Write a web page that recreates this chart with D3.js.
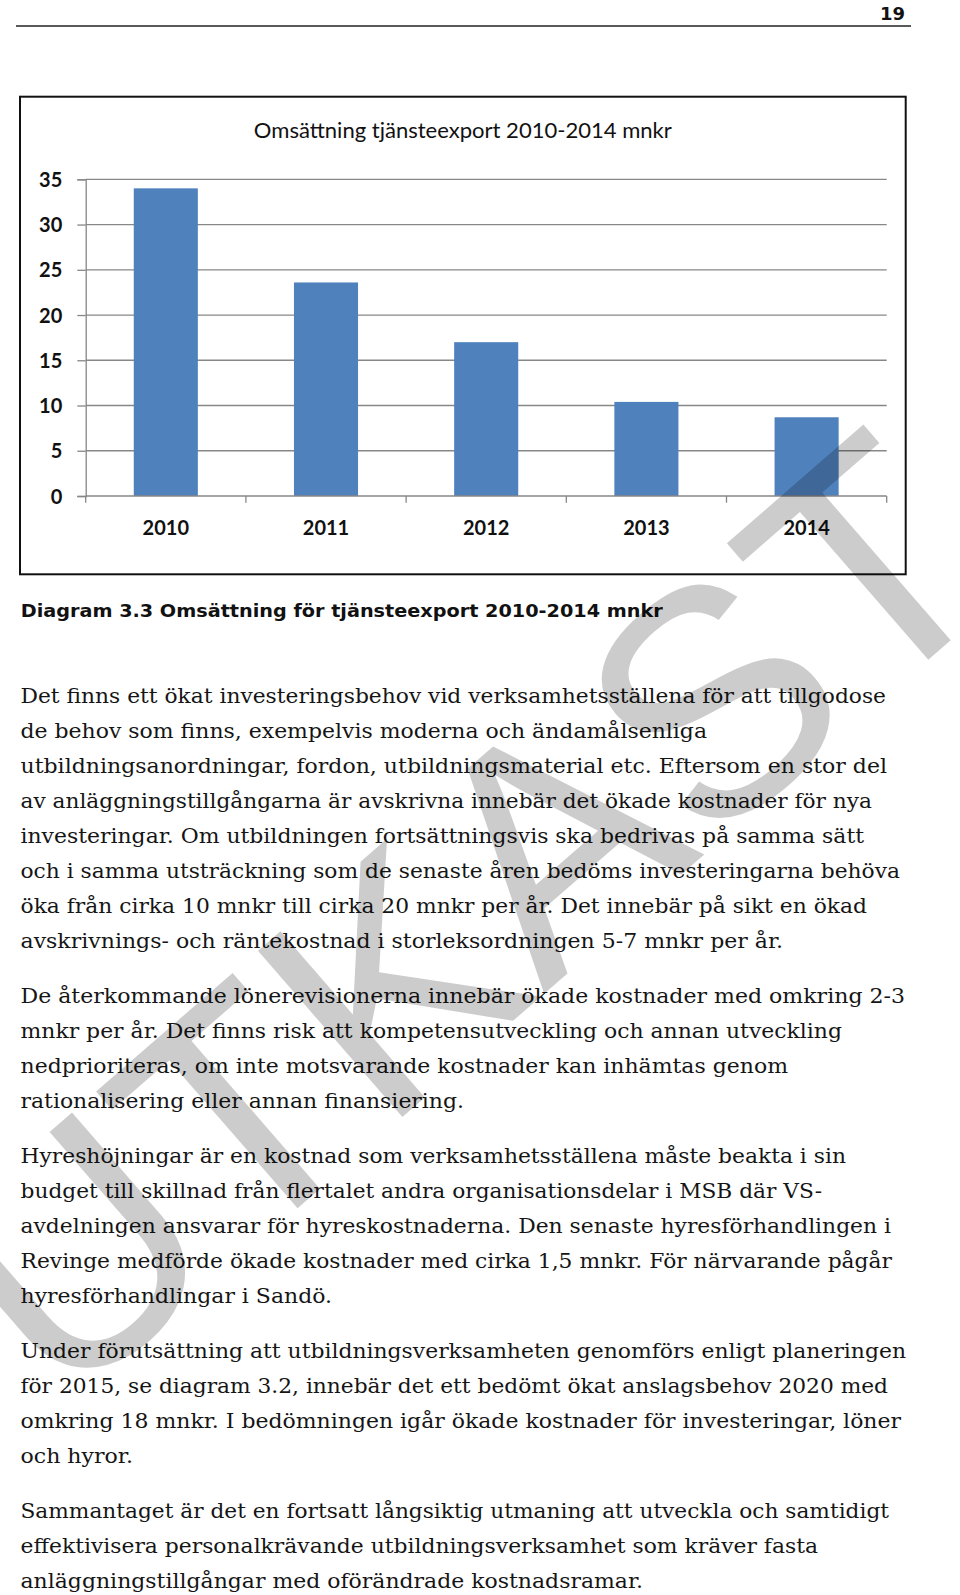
<!DOCTYPE html>
<html>
<head>
<meta charset="utf-8">
<script src="https://cdn.jsdelivr.net/npm/d3@7/dist/d3.min.js"></script>
<style>
  html, body { margin: 0; padding: 0; background: #fff; }
  svg { display: block; }
</style>
</head>
<body>
<script>
// ---------- data ----------
const categories = ["2010", "2011", "2012", "2013", "2014"];
const values = [34.0, 23.6, 17.0, 10.4, 8.7];
const yTicks = [0, 5, 10, 15, 20, 25, 30, 35];
const chartTitle = "Omsättning tjänsteexport 2010-2014 mnkr";
const caption = "Diagram 3.3 Omsättning för tjänsteexport 2010-2014 mnkr";
const pageNumber = "19";
const watermark = "UTKAST";
const paragraphs = [
  ["Det finns ett ökat investeringsbehov vid verksamhetsställena för att tillgodose",
   "de behov som finns, exempelvis moderna och ändamålsenliga",
   "utbildningsanordningar, fordon, utbildningsmaterial etc. Eftersom en stor del",
   "av anläggningstillgångarna är avskrivna innebär det ökade kostnader för nya",
   "investeringar. Om utbildningen fortsättningsvis ska bedrivas på samma sätt",
   "och i samma utsträckning som de senaste åren bedöms investeringarna behöva",
   "öka från cirka 10 mnkr till cirka 20 mnkr per år. Det innebär på sikt en ökad",
   "avskrivnings- och räntekostnad i storleksordningen 5-7 mnkr per år."],
  ["De återkommande lönerevisionerna innebär ökade kostnader med omkring 2-3",
   "mnkr per år. Det finns risk att kompetensutveckling och annan utveckling",
   "nedprioriteras, om inte motsvarande kostnader kan inhämtas genom",
   "rationalisering eller annan finansiering."],
  ["Hyreshöjningar är en kostnad som verksamhetsställena måste beakta i sin",
   "budget till skillnad från flertalet andra organisationsdelar i MSB där VS-",
   "avdelningen ansvarar för hyreskostnaderna. Den senaste hyresförhandlingen i",
   "Revinge medförde ökade kostnader med cirka 1,5 mnkr. För närvarande pågår",
   "hyresförhandlingar i Sandö."],
  ["Under förutsättning att utbildningsverksamheten genomförs enligt planeringen",
   "för 2015, se diagram 3.2, innebär det ett bedömt ökat anslagsbehov 2020 med",
   "omkring 18 mnkr. I bedömningen igår ökade kostnader för investeringar, löner",
   "och hyror."],
  ["Sammantaget är det en fortsatt långsiktig utmaning att utveckla och samtidigt",
   "effektivisera personalkrävande utbildningsverksamhet som kräver fasta",
   "anläggningstillgångar med oförändrade kostnadsramar."]
];

// ---------- layout (positions only) ----------
const W = 960, H = 1595;
const lineEnds = [
  [886, 707, 887, 872, 864, 900, 867, 783],
  [905, 842, 788, 464],
  [846, 822, 891, 892, 332],
  [906, 888, 901, 133],
  [889, 818, 643]
];
const frame = { x0: 20, y0: 96.7, x1: 905.7, y1: 574.3 };
const plot = { left: 85.7, right: 886.7, top: 179.3, bottom: 496 };

const svg = d3.select("body").append("svg")
  .attr("width", W).attr("height", H)
  .attr("viewBox", `0 0 ${W} ${H}`);

// header
svg.append("text")
  .attr("x", 905).attr("y", 20)
  .attr("text-anchor", "end")
  .style("font-family", "'DejaVu Sans', Verdana, sans-serif")
  .style("font-weight", "bold").style("font-size", "18px")
  .attr("fill", "#111")
  .text(pageNumber);
svg.append("line")
  .attr("x1", 16).attr("x2", 911).attr("y1", 26).attr("y2", 26)
  .attr("stroke", "#222").attr("stroke-width", 1.3);

// chart frame
svg.append("rect")
  .attr("x", frame.x0).attr("y", frame.y0)
  .attr("width", frame.x1 - frame.x0).attr("height", frame.y1 - frame.y0)
  .attr("fill", "#fff").attr("stroke", "#111").attr("stroke-width", 2);

// title
svg.append("text")
  .attr("x", (frame.x0 + frame.x1) / 2).attr("y", 138.3)
  .attr("text-anchor", "middle")
  .style("font-family", "Lato, 'Open Sans', sans-serif")
  .style("font-size", "22px")
  .attr("fill", "#111")
  .attr("textLength", 418).attr("lengthAdjust", "spacingAndGlyphs")
  .text(chartTitle);

// scales
const x = d3.scaleBand().domain(categories)
  .range([plot.left, plot.right])
  .paddingInner(0.6).paddingOuter(0.3);
const y = d3.scaleLinear().domain([0, 35]).range([plot.bottom, plot.top]);

const gridColor = "#878787";

// gridlines
svg.append("g").selectAll("line")
  .data(yTicks.filter(d => d > 0))
  .join("line")
  .attr("x1", plot.left).attr("x2", plot.right)
  .attr("y1", d => y(d)).attr("y2", d => y(d))
  .attr("stroke", gridColor).attr("stroke-width", 1.3);

// y axis
const yAxis = svg.append("g")
  .attr("transform", `translate(${plot.left},0)`)
  .call(d3.axisLeft(y).tickValues(yTicks).tickSize(8.4).tickPadding(15).tickFormat(d3.format("d")));
yAxis.select(".domain").attr("stroke", gridColor).attr("stroke-width", 1.3);
yAxis.selectAll(".tick line").attr("stroke", gridColor).attr("stroke-width", 1.3);
yAxis.selectAll(".tick text")
  .attr("dy", null).attr("y", 7.2)
  .style("font-family", "Lato, 'Open Sans', sans-serif")
  .style("font-weight", "bold").style("font-size", "20px")
  .attr("fill", "#111");

// bars
svg.append("g").selectAll("rect")
  .data(categories.map((c, i) => ({ c, v: values[i] })))
  .join("rect")
  .attr("x", d => x(d.c))
  .attr("y", d => y(d.v))
  .attr("width", x.bandwidth())
  .attr("height", d => y(0) - y(d.v))
  .attr("fill", "#4f81bd");

// x axis line and boundary ticks
svg.append("line")
  .attr("x1", plot.left).attr("x2", plot.right)
  .attr("y1", y(0)).attr("y2", y(0))
  .attr("stroke", gridColor).attr("stroke-width", 1.3);
const boundaries = d3.range(categories.length + 1).map(i => plot.left + i * x.step());
svg.append("g").selectAll("line")
  .data(boundaries)
  .join("line")
  .attr("x1", d => d).attr("x2", d => d)
  .attr("y1", y(0)).attr("y2", y(0) + 6.7)
  .attr("stroke", gridColor).attr("stroke-width", 1.3);

// x labels
svg.append("g").selectAll("text")
  .data(categories)
  .join("text")
  .attr("x", d => x(d) + x.bandwidth() / 2)
  .attr("y", 535)
  .attr("text-anchor", "middle")
  .style("font-family", "Lato, 'Open Sans', sans-serif")
  .style("font-weight", "bold").style("font-size", "20px")
  .attr("fill", "#111")
  .text(d => d);

// caption
svg.append("text")
  .attr("x", 20.7).attr("y", 617.3)
  .style("font-family", "'DejaVu Sans', Verdana, sans-serif")
  .style("font-weight", "bold").style("font-size", "17px")
  .attr("fill", "#111")
  .attr("textLength", 642).attr("lengthAdjust", "spacingAndGlyphs")
  .text(caption);

// body text
const body = svg.append("g")
  .style("font-family", "'DejaVu Serif', Georgia, serif")
  .style("font-size", "19.5px")
  .attr("fill", "#151515");
let baseY = 703;
paragraphs.forEach((lines, pi) => {
  lines.forEach((ln, li) => {
    body.append("text")
      .attr("x", 20.5).attr("y", baseY)
      .attr("textLength", lineEnds[pi][li] - 20.5)
      .attr("lengthAdjust", "spacingAndGlyphs")
      .text(ln);
    baseY += 35;
  });
  baseY += 20;
});

// watermark
svg.append("text")
  .attr("transform", "translate(537,1000) rotate(-41)")
  .attr("x", 0).attr("y", 0)
  .attr("text-anchor", "middle")
  .style("font-family", "'Liberation Sans', Arial, sans-serif")
  .style("font-size", "320px")
  .attr("fill", "#000").attr("fill-opacity", 0.2)
  .style("pointer-events", "none")
  .text(watermark);
</script>
</body>
</html>
